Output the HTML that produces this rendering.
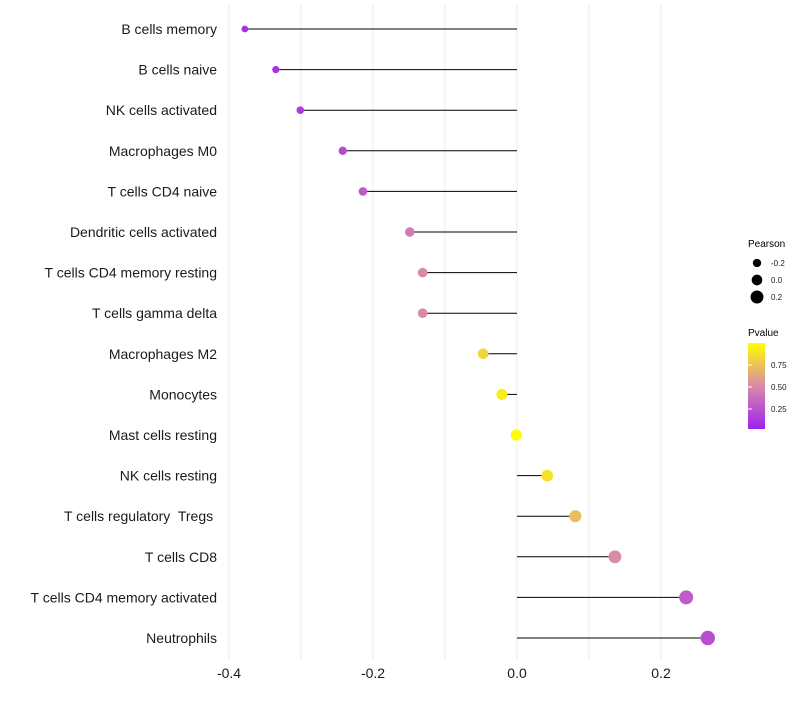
<!DOCTYPE html>
<html><head><meta charset="utf-8"><style>
body{margin:0;background:#fff;font-family:"Liberation Sans",sans-serif}
</style></head><body>
<svg id="chart" width="800" height="700" xmlns="http://www.w3.org/2000/svg" font-family="Liberation Sans, sans-serif">
<defs><linearGradient id="pg" x1="0" y1="1" x2="0" y2="0">
<stop offset="0" stop-color="#a020f0"/><stop offset="0.5" stop-color="#d98aa8"/><stop offset="1" stop-color="#ffff00"/>
</linearGradient></defs>
<g id="grid"></g>
<g id="marks"></g>
<g id="ylabels"></g>
<g id="xlabels"></g>
<g font-size="10">
<text x="748" y="247" fill="#000">Pearson</text>
<g id="sizeleg"></g>
</g>
<g font-size="10">
<text x="748" y="336" fill="#000">Pvalue</text>
<rect x="748" y="343" width="17" height="86" fill="url(#pg)"/>
<g id="cleg"></g>
</g>
</svg>
<script>
const categories=["B cells memory","B cells naive","NK cells activated","Macrophages M0","T cells CD4 naive","Dendritic cells activated","T cells CD4 memory resting","T cells gamma delta","Macrophages M2","Monocytes","Mast cells resting","NK cells resting","T cells regulatory  Tregs ","T cells CD8","T cells CD4 memory activated","Neutrophils"];
const pearson=[-0.378,-0.335,-0.301,-0.242,-0.214,-0.149,-0.131,-0.131,-0.047,-0.021,-0.001,0.042,0.081,0.136,0.235,0.265];
const pvalue=[0.06,0.08,0.12,0.2,0.27,0.44,0.5,0.5,0.82,0.92,0.99,0.88,0.72,0.5,0.28,0.22];
const xTicks=[-0.4,-0.2,0.0,0.2];
const xTickLabels=["-0.4","-0.2","0.0","0.2"];
const gridVals=[-0.4,-0.3,-0.2,-0.1,0,0.1,0.2];
const sizeLegVals=[-0.2,0.0,0.2];
const colorLegVals=[0.25,0.5,0.75];
const NS="http://www.w3.org/2000/svg";
const X=v=>517+v*720;
const Y=i=>29+i*40.6;
const R=v=>5.6+6*v;
const PY=p=>343+(1-p)*88;
function lerp(a,b,t){return a.map((x,i)=>Math.round(x+(b[i]-x)*t));}
function col(p){const c0=[160,32,240],c1=[217,138,168],c2=[255,255,0];
 const c=p<0.5?lerp(c0,c1,p/0.5):lerp(c1,c2,(p-0.5)/0.5);return `rgb(${c})`;}
function mk(t,a,parent){const e=document.createElementNS(NS,t);for(const k in a)e.setAttribute(k,a[k]);document.getElementById(parent).appendChild(e);return e;}
gridVals.forEach(v=>{const l=mk('line',{x1:X(v),x2:X(v),y1:5,y2:660,stroke:'#ebebeb','stroke-width':1},'grid');

});
categories.forEach((c,i)=>{
 const l=mk('line',{x1:X(0),x2:X(pearson[i]),y1:Y(i),y2:Y(i),stroke:'#000','stroke-width':1},'marks');
 
 
 const d=mk('circle',{cx:X(pearson[i]),cy:Y(i),r:Math.max(1.5,R(pearson[i])),fill:col(pvalue[i])},'marks');
 
 
 const t=mk('text',{x:217,y:Y(i)+5,'text-anchor':'end','font-size':14,fill:'#1a1a1a'},'ylabels');
 t.setAttribute('style','white-space:pre');
 t.textContent=c;
 
 
});
xTicks.forEach((v,i)=>{const t=mk('text',{x:X(v),y:678,'text-anchor':'middle','font-size':14,fill:'#1a1a1a'},'xlabels');
 t.textContent=xTickLabels[i];
 
 });
sizeLegVals.forEach((v,i)=>{const y=263+i*17;
 const c=mk('circle',{cx:757,cy:y,r:R(v)*0.95,fill:'#000'},'sizeleg');
 
 
 const t=mk('text',{x:771,y:y+3,'font-size':8,fill:'#1a1a1a'},'sizeleg');t.textContent=v.toFixed(1);
 
 });
colorLegVals.forEach(v=>{const y=PY(v);
 const l=mk('line',{x1:748,x2:752,y1:y,y2:y,stroke:'#fff'},'cleg');
 
 
 const t=mk('text',{x:771,y:y+3,'font-size':8,fill:'#1a1a1a'},'cleg');t.textContent=v.toFixed(2);
 
 });
</script>
</body></html>
